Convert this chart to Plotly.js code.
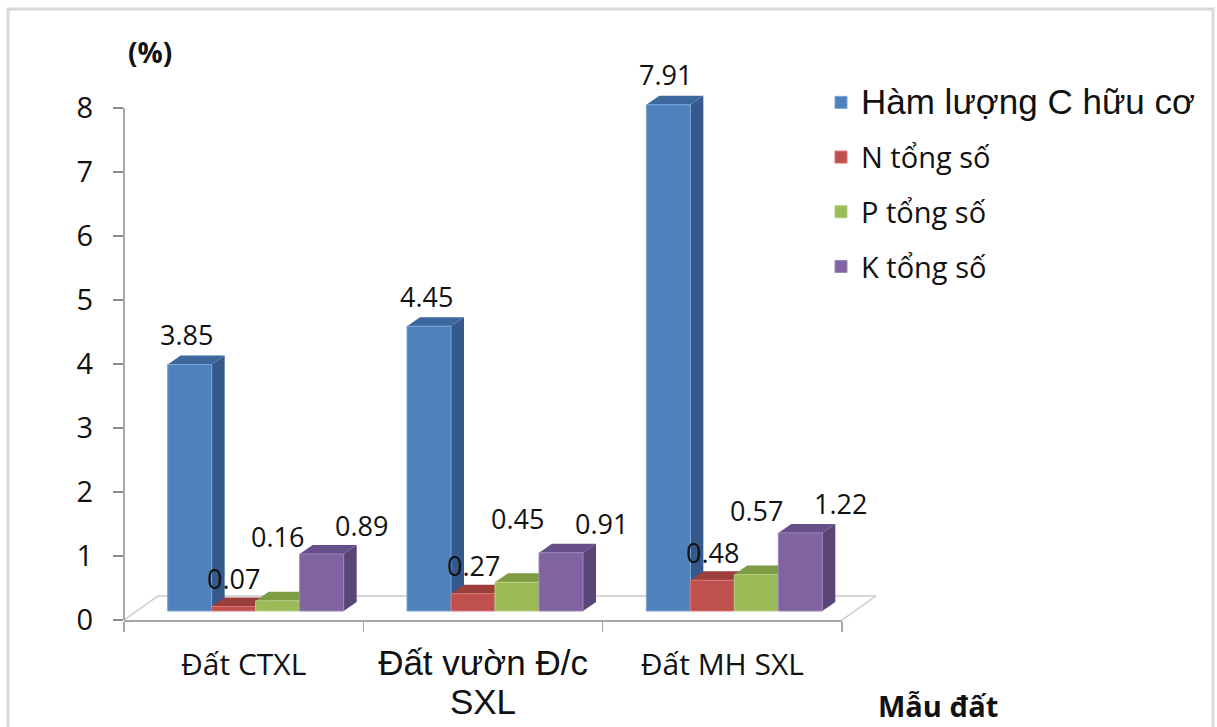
<!DOCTYPE html>
<html><head><meta charset="utf-8">
<script src="https://cdn.plot.ly/plotly-3.0.1.min.js"></script>
<style>html,body{margin:0;padding:0;background:#fff;} #chart{width:1217px;height:727px;}</style>
</head><body><div id="chart"></div>
<script>
// ---- data ----
const categories = ["Đất CTXL", "Đất vườn Đ/c<br>SXL", "Đất MH SXL"];
const seriesNames = ["Hàm lượng C hữu cơ", "N tổng số", "P tổng số", "K tổng số"];
const cHuuCo  = [3.85, 4.45, 7.91];
const nTongSo = [0.07, 0.27, 0.48];
const pTongSo = [0.16, 0.45, 0.57];
const kTongSo = [0.89, 0.91, 1.22];
const yTickVals = [0, 1, 2, 3, 4, 5, 6, 7, 8];
const yAxisLabel = "(%)";
const xAxisLabel = "Mẫu đất";

// ---- layout geometry ----
const W = 1217, H = 727;
const pxPerUnit = 64, yMax = 9, axisTop = 8;
const BASE = 620;                       // pixel row of y = 0
const M = {l: 124, r: 375, t: BASE - yMax * pxPerUnit, b: H - BASE};
const PW = W - M.l - M.r, PH = H - M.t - M.b;
const xRange = [-0.5, 2.5], yRange = [0, yMax];
const ux = (xRange[1] - xRange[0]) / PW;   // x units per pixel
const uy = (yRange[1] - yRange[0]) / PH;   // y units per pixel
const barPx = 44, shiftPx = 12, liftPx = 9, depthXPx = 13, depthYPx = 9;
const floorDX = 34, floorDY = 24;
const bw = barPx * ux, shift = shiftPx * ux;
const dX = depthXPx * ux, dY = depthYPx * uy;
const y2Range = [yRange[0] - liftPx * uy, yRange[1] - liftPx * uy];
const FONT = "'Open Sans', 'Noto Sans', sans-serif";
const ARIAL = "'Liberation Sans', Arial, sans-serif";
const px2py = p => (BASE - p) / PH;      // pixel row -> paper y
const px2px = p => (p - M.l) / PW;       // pixel col -> paper x

const styles = [
  {front: '#4F81BD', line: '#79A3D6', top: '#3D689E', side: '#35598A', dx: -3, dy: 30},
  {front: '#C0504D', line: '#D67976', top: '#9C3E3B', side: '#8B3533', dx: 0,  dy: 28},
  {front: '#9BBB59', line: '#B5CF80', top: '#7E9C44', side: '#6E893B', dx: 0,  dy: 64},
  {front: '#8064A2', line: '#9C86BA', top: '#67508A', side: '#5A4578', dx: 40, dy: 29}
];
// per-category tick font (original mixes two typefaces)
const catFont = [null, {family: ARIAL, size: 35}, null];
const firstLegendFont = {family: ARIAL, size: 35};

const seriesValues = [cHuuCo, nTongSo, pTongSo, kTongSo];
const positions = categories.map((c, i) => i);

const spanWrap = (txt, f) => f ? txt.split('<br>').map(t =>
  `<span style="font-family:${f.family.replace(/"/g, "'")};font-size:${f.size}px">${t}</span>`).join('<br>') : txt;

const traces = [];
const shapes = [];
const annotations = [];

// dummy trace so the visible x/y subplot exists
traces.push({type: 'scatter', x: [], y: [], showlegend: false, hoverinfo: 'skip'});

// floor + border + y-axis line (decoration)
const fx = floorDX / PW, fy = floorDY / PH;
const floorLine = {color: '#C9C9C9', width: 1.5};
shapes.push({type: 'line', xref: 'paper', yref: 'paper', x0: fx, y0: fy, x1: 1 + fx, y1: fy, line: floorLine, layer: 'below'});
shapes.push({type: 'line', xref: 'paper', yref: 'paper', x0: 0, y0: 0, x1: fx, y1: fy, line: floorLine, layer: 'below'});
shapes.push({type: 'line', xref: 'paper', yref: 'paper', x0: 1, y0: 0, x1: 1 + fx, y1: fy, line: floorLine, layer: 'below'});
shapes.push({type: 'line', xref: 'paper', yref: 'y', x0: 0, x1: 0, y0: 0, y1: axisTop,
  line: {color: '#8C8C8C', width: 1.5}});
shapes.push({type: 'rect', xref: 'paper', yref: 'paper',
  x0: px2px(8), x1: px2px(1213), y0: px2py(9), y1: px2py(760),
  line: {color: '#D9D9D9', width: 3}, layer: 'below'});

seriesValues.forEach((vals, s) => {
  const st = styles[s];
  const off = shift - 2 * bw + s * bw;
  traces.push({
    type: 'bar', x: positions, y: vals, yaxis: 'y2',
    width: bw, offset: off,
    name: s === 0 ? spanWrap(seriesNames[s], firstLegendFont) : seriesNames[s],
    legendgroup: 'g' + s,
    marker: {color: st.front, line: {color: st.line, width: 1}},
    hoverinfo: 'skip'
  });
});

// faux 3D faces, drawn left to right
positions.forEach((p, i) => {
  seriesValues.forEach((vals, s) => {
    const st = styles[s];
    const v = vals[i];
    const xl = p + shift - 2 * bw + s * bw, xr = xl + bw;
    shapes.push({type: 'path', xref: 'x', yref: 'y2', layer: 'below',
      path: `M${xr},0 L${xr + dX},${dY} L${xr + dX},${v + dY} L${xr},${v} Z`,
      fillcolor: st.side, line: {width: 0}});
    shapes.push({type: 'path', xref: 'x', yref: 'y2', layer: 'below',
      path: `M${xl},${v} L${xr},${v} L${xr + dX},${v + dY} L${xl + dX},${v + dY} Z`,
      fillcolor: st.top, line: {width: 0}});
  });
});

// data labels
seriesValues.forEach((vals, s) => {
  const st = styles[s];
  vals.forEach((v, i) => {
    const xc = positions[i] + shift - 2 * bw + s * bw + bw / 2;
    annotations.push({x: xc, y: v, xref: 'x', yref: 'y2', text: v.toFixed(2),
      showarrow: false, xanchor: 'center', yanchor: 'middle', xshift: st.dx, yshift: st.dy,
      font: {family: FONT, size: 27, color: '#111'}});
  });
});

annotations.push({xref: 'paper', yref: 'paper', x: px2px(150), y: px2py(52),
  text: '<b>' + yAxisLabel + '</b>', showarrow: false, xanchor: 'center', yanchor: 'middle',
  font: {family: FONT, size: 28, color: '#111'}});
annotations.push({xref: 'paper', yref: 'paper', x: px2px(938), y: px2py(705),
  text: '<b>' + xAxisLabel + '</b>', showarrow: false, xanchor: 'center', yanchor: 'middle',
  borderpad: 0, font: {family: FONT, size: 29, color: '#111'}});

const layout = {
  width: W, height: H,
  margin: M,
  paper_bgcolor: '#fff', plot_bgcolor: 'rgba(0,0,0,0)',
  showlegend: true,
  barmode: 'overlay',
  font: {family: FONT, size: 28, color: '#111'},
  xaxis: {
    type: 'linear', range: xRange, tickvals: positions,
    ticktext: categories.map((c, i) => spanWrap(c, catFont[i])),
    ticks: '', showgrid: false, zeroline: false,
    showline: true, linecolor: '#A6A6A6', linewidth: 1.5,
    ticklabelstandoff: 17,
    tickfont: {family: FONT, size: 30, color: '#111'},
    minor: {tickvals: [-0.5, 0.5, 1.5, 2.5], ticks: 'outside', ticklen: 10, tickwidth: 1.5, tickcolor: '#A6A6A6', showgrid: false},
    fixedrange: true
  },
  yaxis: {
    range: yRange, tickvals: yTickVals, ticks: 'outside', ticklen: 10, tickwidth: 1.5, tickcolor: '#8C8C8C',
    showline: false, showgrid: false, zeroline: false,
    ticklabelstandoff: 14,
    tickfont: {family: FONT, size: 29, color: '#111'}, fixedrange: true
  },
  yaxis2: {overlaying: 'y', range: y2Range, visible: false, fixedrange: true},
  legend: {
    x: px2px(821), y: px2py(77), xanchor: 'left', yanchor: 'top',
    font: {family: FONT, size: 29, color: '#111'}, bgcolor: 'rgba(0,0,0,0)',
    tracegroupgap: 14, traceorder: 'grouped'
  },
  shapes: shapes,
  annotations: annotations
};

Plotly.newPlot('chart', traces, layout, {staticPlot: true, displayModeBar: false});
</script>
</body></html>
